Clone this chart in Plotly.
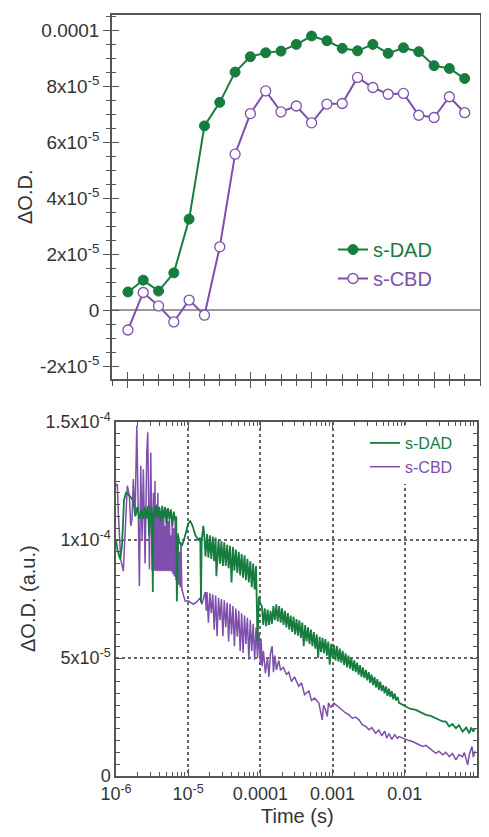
import plotly.graph_objects as go

# ---------------- top panel data (values in units of 1e-5) ----------------
top_index = list(range(23))
dad_top_e5 = [0.65, 1.07, 0.68, 1.33, 3.25, 6.58, 7.42, 8.50, 9.05, 9.19, 9.25, 9.49,
              9.79, 9.62, 9.35, 9.26, 9.49, 9.17, 9.37, 9.23, 8.73, 8.63, 8.27]
cbd_top_e5 = [-0.71, 0.63, 0.15, -0.42, 0.36, -0.18, 2.26, 5.57, 7.02, 7.83, 7.08, 7.29,
              6.69, 7.36, 7.38, 8.31, 7.95, 7.71, 7.74, 6.96, 6.88, 7.62, 7.05]
top_ytick_vals = [-2e-5, 0, 2e-5, 4e-5, 6e-5, 8e-5, 1e-4]
top_ytick_text = ["-2x10<sup>-5</sup>", "0", "2x10<sup>-5</sup>", "4x10<sup>-5</sup>",
                  "6x10<sup>-5</sup>", "8x10<sup>-5</sup>", "0.0001"]

# ---------------- bottom panel data: (log10 time [s], dOD in 1e-5) ----------------
dad_trace = [
    (-6.00, 10.0), (-5.98, 9.6), (-5.944, 9.18), (-5.917, 9.75), (-5.889, 11.7), (-5.861, 12.0),
    (-5.806, 11.85), (-5.76, 11.65), (-5.732, 11.0), (-5.704, 11.4), (-5.676, 10.9), (-5.643, 11.3),
    (-5.62, 10.9), (-5.60, 11.4), (-5.58, 10.9), (-5.56, 11.45), (-5.54, 10.2), (-5.52, 11.4),
    (-5.50, 10.9), (-5.49, 7.8), (-5.48, 11.4), (-5.46, 10.9), (-5.44, 11.5), (-5.42, 10.95),
    (-5.40, 11.4), (-5.38, 10.8), (-5.36, 11.45), (-5.34, 10.9), (-5.32, 11.4), (-5.30, 10.7),
    (-5.28, 11.35), (-5.26, 10.9), (-5.24, 11.3), (-5.22, 10.6), (-5.20, 11.2), (-5.18, 10.8),
    (-5.165, 11.0), (-5.157, 7.4), (-5.14, 10.2), (-5.12, 9.9), (-5.088, 9.75), (-5.05, 10.1),
    (-5.00, 10.7), (-4.972, 10.8), (-4.94, 10.6), (-4.90, 10.2), (-4.86, 10.0), (-4.833, 10.1),
    (-4.823, 7.35), (-4.813, 10.0), (-4.79, 10.6),
    (-4.78, 10.3), (-4.76, 9.3), (-4.74, 10.25), (-4.72, 9.25), (-4.70, 10.2), (-4.68, 9.2),
    (-4.66, 10.15), (-4.64, 9.1), (-4.62, 10.1), (-4.61, 8.47), (-4.60, 9.1), (-4.58, 10.0),
    (-4.56, 9.0), (-4.54, 9.95), (-4.52, 8.9), (-4.50, 9.9), (-4.48, 8.9), (-4.46, 9.8),
    (-4.44, 8.8), (-4.42, 9.75), (-4.40, 8.2), (-4.38, 9.7), (-4.36, 8.7), (-4.34, 9.6),
    (-4.32, 8.6), (-4.30, 9.5), (-4.28, 8.5), (-4.26, 9.4), (-4.24, 8.4), (-4.22, 9.35),
    (-4.20, 8.3), (-4.18, 9.2), (-4.16, 8.2), (-4.14, 9.1), (-4.12, 8.0), (-4.10, 9.0),
    (-4.08, 7.9), (-4.06, 8.9), (-4.04, 5.7), (-4.02, 7.6), (-4.00, 7.3),
    (-3.98, 7.2), (-3.96, 6.4), (-3.94, 7.1), (-3.92, 6.35), (-3.90, 7.05), (-3.88, 6.4),
    (-3.86, 7.0), (-3.84, 6.45), (-3.82, 7.2), (-3.80, 6.6), (-3.78, 7.27), (-3.76, 6.55),
    (-3.74, 7.2), (-3.72, 6.5), (-3.70, 7.1), (-3.68, 6.4), (-3.66, 7.0), (-3.64, 6.3),
    (-3.62, 6.9), (-3.60, 6.2), (-3.58, 6.8), (-3.56, 6.1), (-3.54, 6.75), (-3.52, 6.0),
    (-3.50, 6.65), (-3.48, 5.95), (-3.46, 6.6), (-3.44, 5.85), (-3.42, 6.5), (-3.40, 5.5),
    (-3.38, 6.4), (-3.36, 5.7), (-3.34, 6.3), (-3.32, 5.6), (-3.30, 6.2), (-3.28, 5.5),
    (-3.26, 6.1), (-3.24, 5.4), (-3.22, 6.0), (-3.20, 5.0), (-3.18, 5.9), (-3.16, 5.25),
    (-3.14, 5.85), (-3.12, 5.2), (-3.10, 5.8), (-3.08, 5.1), (-3.06, 5.7), (-3.04, 4.72),
    (-3.02, 5.6), (-3.00, 5.0), (-2.98, 5.55), (-2.96, 4.9), (-2.94, 5.5), (-2.92, 4.85),
    (-2.90, 5.4), (-2.88, 4.8), (-2.86, 5.3), (-2.84, 4.7), (-2.82, 5.2), (-2.80, 4.6),
    (-2.78, 5.1), (-2.76, 4.55), (-2.74, 5.0), (-2.72, 4.45), (-2.70, 4.9), (-2.68, 4.4),
    (-2.66, 4.8), (-2.64, 4.3), (-2.62, 4.7), (-2.60, 4.2), (-2.58, 4.6), (-2.56, 4.15),
    (-2.54, 4.5), (-2.52, 4.05), (-2.50, 4.4), (-2.48, 3.95), (-2.46, 4.3), (-2.44, 3.85),
    (-2.42, 4.2), (-2.40, 3.75), (-2.38, 4.1), (-2.36, 3.65), (-2.34, 4.0), (-2.32, 3.6),
    (-2.30, 3.85), (-2.28, 3.5), (-2.26, 3.8), (-2.24, 3.4), (-2.22, 3.7), (-2.20, 3.35),
    (-2.18, 3.6), (-2.16, 3.25), (-2.14, 3.5), (-2.12, 3.2), (-2.10, 3.35), (-2.08, 3.1),
    (-2.05, 3.05), (-1.986, 2.95), (-1.93, 2.85), (-1.847, 2.8), (-1.78, 2.7), (-1.708, 2.59),
    (-1.64, 2.55), (-1.569, 2.45), (-1.52, 2.4), (-1.476, 2.31), (-1.43, 2.3), (-1.385, 2.1),
    (-1.34, 2.2), (-1.292, 2.03), (-1.25, 2.15), (-1.199, 1.88), (-1.15, 2.05), (-1.107, 1.81),
    (-1.08, 2.05), (-1.051, 1.88), (-1.03, 2.0),
]

cbd_trace = [
    (-6.00, 12.3), (-5.982, 12.37), (-5.968, 11.16), (-5.935, 9.18), (-5.899, 8.68), (-5.861, 10.88),
    (-5.843, 12.3), (-5.815, 11.87), (-5.796, 10.6), (-5.778, 10.88), (-5.76, 12.58), (-5.736, 11.02),
    (-5.712, 14.85), (-5.69, 10.88), (-5.676, 8.05), (-5.657, 13.15), (-5.639, 10.0), (-5.621, 13.0),
    (-5.597, 9.0), (-5.574, 13.71), (-5.56, 14.56), (-5.537, 8.76), (-5.518, 13.71), (-5.50, 8.7),
    (-5.482, 12.0), (-5.47, 8.7), (-5.46, 12.5), (-5.45, 8.7), (-5.44, 11.3), (-5.43, 8.68),
    (-5.42, 12.0), (-5.41, 8.7), (-5.40, 11.2), (-5.39, 8.68), (-5.38, 10.9), (-5.37, 8.7),
    (-5.36, 11.35), (-5.35, 8.68), (-5.34, 11.0), (-5.33, 8.7), (-5.32, 10.6), (-5.31, 8.68),
    (-5.30, 11.3), (-5.29, 8.7), (-5.28, 10.8), (-5.27, 8.68), (-5.26, 11.1), (-5.25, 8.7),
    (-5.24, 10.2), (-5.23, 8.65), (-5.22, 10.9), (-5.21, 8.55), (-5.20, 10.5), (-5.19, 8.45),
    (-5.18, 10.8), (-5.17, 8.3), (-5.16, 9.8), (-5.15, 8.2), (-5.14, 10.3), (-5.13, 8.1),
    (-5.12, 9.5), (-5.11, 8.0), (-5.10, 9.9), (-5.088, 7.9), (-5.042, 7.41), (-4.996, 7.41),
    (-4.926, 7.27), (-4.871, 7.41), (-4.833, 7.55), (-4.81, 7.27), (-4.764, 7.8),
    (-4.75, 7.0), (-4.74, 7.8), (-4.72, 6.5), (-4.70, 7.75), (-4.68, 6.9), (-4.66, 7.7),
    (-4.64, 6.2), (-4.62, 7.65), (-4.60, 5.92), (-4.58, 7.55), (-4.56, 6.6), (-4.54, 7.5),
    (-4.52, 5.92), (-4.50, 7.45), (-4.48, 6.3), (-4.46, 7.35), (-4.44, 5.7), (-4.42, 7.3),
    (-4.40, 6.0), (-4.38, 7.2), (-4.36, 5.5), (-4.34, 7.1), (-4.32, 5.9), (-4.30, 7.0),
    (-4.28, 5.3), (-4.26, 6.9), (-4.24, 5.21), (-4.22, 6.8), (-4.20, 5.6), (-4.18, 6.7),
    (-4.16, 4.93), (-4.14, 6.6), (-4.12, 5.3), (-4.10, 6.45), (-4.08, 4.93), (-4.06, 6.3),
    (-4.04, 5.0), (-4.02, 6.1), (-4.00, 4.7), (-3.99, 5.8),
    (-3.976, 4.65), (-3.958, 5.3), (-3.931, 4.36), (-3.903, 5.0), (-3.882, 4.2), (-3.861, 5.2),
    (-3.837, 5.5), (-3.819, 4.4), (-3.799, 5.1), (-3.778, 4.5), (-3.746, 4.9), (-3.722, 4.5),
    (-3.681, 4.6), (-3.639, 4.3), (-3.607, 4.4), (-3.569, 4.0), (-3.528, 4.2), (-3.468, 3.8),
    (-3.431, 3.95), (-3.389, 3.45), (-3.329, 3.6), (-3.292, 3.2), (-3.25, 3.3), (-3.19, 3.09),
    (-3.143, 2.38), (-3.125, 3.0), (-3.097, 2.8), (-3.074, 2.52), (-3.056, 3.1), (-3.028, 2.9),
    (-2.982, 3.09), (-2.935, 2.95), (-2.889, 2.85), (-2.819, 2.67), (-2.778, 2.6), (-2.726, 2.45),
    (-2.681, 2.5), (-2.635, 2.38), (-2.588, 2.17), (-2.542, 2.1), (-2.496, 1.96), (-2.458, 2.05),
    (-2.403, 1.81), (-2.361, 1.95), (-2.319, 1.7), (-2.278, 1.9), (-2.25, 1.6), (-2.218, 1.8),
    (-2.181, 1.55), (-2.139, 1.75), (-2.101, 1.6), (-2.079, 1.67), (-2.042, 1.62), (-1.986, 1.55),
    (-1.944, 1.5), (-1.893, 1.46), (-1.847, 1.39), (-1.806, 1.35), (-1.754, 1.25), (-1.708, 1.3),
    (-1.662, 1.18), (-1.625, 1.1), (-1.569, 0.96), (-1.528, 1.05), (-1.476, 0.9), (-1.431, 1.0),
    (-1.385, 0.82), (-1.34, 0.95), (-1.292, 0.68), (-1.25, 0.9), (-1.199, 0.82), (-1.176, 1.0),
    (-1.129, 0.47), (-1.107, 0.9), (-1.069, 1.25), (-1.051, 0.8), (-1.028, 1.05),
]

bottom_xtick_vals = [1e-6, 1e-5, 1e-4, 1e-3, 1e-2, 1e-1]
bottom_xtick_text = ["10<sup>-6</sup>", "10<sup>-5</sup>", "0.0001", "0.001", "0.01", "0.1"]
bottom_ytick_vals = [0, 5e-5, 1e-4, 1.5e-4]
bottom_ytick_text = ["0", "5x10<sup>-5</sup>", "1x10<sup>-4</sup>", "1.5x10<sup>-4</sup>"]

GREEN = "#167d3f"
PURPLE = "#7e4fac"
AXC = "#555555"
FONT = "Liberation Sans, Arial, sans-serif"

E5 = 1e-5
dad_t = [10 ** p[0] for p in dad_trace]
dad_v = [p[1] * E5 for p in dad_trace]
cbd_t = [10 ** p[0] for p in cbd_trace]
cbd_v = [p[1] * E5 for p in cbd_trace]

fig = go.Figure()

# top panel
fig.add_trace(go.Scatter(
    x=top_index, y=[v * E5 for v in dad_top_e5], mode="lines+markers",
    name="<span style='color:%s'>s-DAD</span>" % GREEN, legendgroup="a",
    line=dict(color=GREEN, width=2),
    marker=dict(symbol="circle", size=10, color=GREEN, line=dict(color=GREEN, width=1)),
    xaxis="x", yaxis="y", legend="legend"))
fig.add_trace(go.Scatter(
    x=top_index, y=[v * E5 for v in cbd_top_e5], mode="lines+markers",
    name="<span style='color:%s'>s-CBD</span>" % PURPLE, legendgroup="b",
    line=dict(color=PURPLE, width=2),
    marker=dict(symbol="circle", size=10, color="white", line=dict(color=PURPLE, width=1.3)),
    xaxis="x", yaxis="y", legend="legend"))

# bottom panel
fig.add_trace(go.Scatter(
    x=cbd_t, y=cbd_v, mode="lines", name="<span style='color:%s'>s-CBD</span>" % PURPLE,
    line=dict(color=PURPLE, width=1.5), xaxis="x2", yaxis="y2", legend="legend2",
    legendrank=2))
fig.add_trace(go.Scatter(
    x=dad_t, y=dad_v, mode="lines", name="<span style='color:%s'>s-DAD</span>" % GREEN,
    line=dict(color=GREEN, width=1.8), xaxis="x2", yaxis="y2", legend="legend2",
    legendrank=1))

# empty traces so the tick-overlay axes (crossing ticks) exist
fig.add_trace(go.Scatter(x=[], y=[], xaxis="x3", yaxis="y", showlegend=False, hoverinfo="skip"))
fig.add_trace(go.Scatter(x=[], y=[], xaxis="x", yaxis="y3", showlegend=False, hoverinfo="skip"))

# the page body adds an 8px margin, so the figure is 8px smaller and shifted
OFF = 8
W, H = 489 - OFF, 837 - OFF


def px_x(px):
    return (px - OFF) / W


def px_y(py):
    return 1 - (py - OFF) / H


top_xdom = [px_x(112), px_x(480)]
top_ydom = [px_y(379), px_y(15)]
bot_xdom = [px_x(116), px_x(477)]
bot_ydom = [px_y(776), px_y(422)]

top_xrange = [-1.04, 23.0]
top_yrange = [-2.46e-5, 1.054e-4]

tickfont = dict(family=FONT, size=19, color="#333333")

fig.update_layout(
    width=W, height=H, margin=dict(l=0, r=0, t=0, b=0, autoexpand=False),
    paper_bgcolor="white", plot_bgcolor="white",
    font=dict(family=FONT, color="#333333"),
    xaxis=dict(domain=top_xdom, anchor="y", range=top_xrange, showgrid=False, zeroline=False,
               automargin=False,
               showticklabels=False, ticks="outside", ticklen=7, tickwidth=1.2, tickcolor=AXC,
               tickmode="linear", tick0=0, dtick=4,
               minor=dict(ticks="outside", ticklen=5, tickwidth=1.2, tickcolor=AXC, dtick=1, tick0=0),
               showline=True, linecolor=AXC, linewidth=1.5, mirror=True),
    xaxis3=dict(overlaying="x", anchor="y", range=top_xrange, showgrid=False, zeroline=False,
                automargin=False,
                showticklabels=False, ticks="inside", ticklen=7, tickwidth=1.2, tickcolor=AXC,
                tickmode="linear", tick0=0, dtick=4,
                minor=dict(ticks="inside", ticklen=5, tickwidth=1.2, tickcolor=AXC, dtick=1, tick0=0),
                showline=False),
    yaxis=dict(domain=top_ydom, anchor="x", range=top_yrange, showgrid=False,
               automargin=False,
               zeroline=True, zerolinecolor="#999999", zerolinewidth=1.5,
               tickmode="array", tickvals=top_ytick_vals, ticktext=top_ytick_text,
               ticks="outside", ticklen=7, tickwidth=1.2, tickcolor=AXC, tickfont=tickfont,
               minor=dict(ticks="outside", ticklen=4, tickwidth=1.2, tickcolor=AXC,
                          tickmode="linear", tick0=0, dtick=5e-6),
               showline=True, linecolor=AXC, linewidth=1.5, mirror=True),
    yaxis3=dict(overlaying="y", anchor="x", range=top_yrange, showgrid=False, zeroline=False,
                automargin=False,
                showticklabels=False, tickmode="array", tickvals=top_ytick_vals,
                ticks="inside", ticklen=7, tickwidth=1.2, tickcolor=AXC,
                minor=dict(ticks="inside", ticklen=4, tickwidth=1.2, tickcolor=AXC,
                           tickmode="linear", tick0=0, dtick=5e-6),
                showline=False),
    xaxis2=dict(domain=bot_xdom, anchor="y2", type="log", range=[-6, -1],
                automargin=False, ticklabelstandoff=1,
                tickmode="array", tickvals=bottom_xtick_vals, ticktext=bottom_xtick_text,
                tickfont=dict(family=FONT, size=18, color="#333333"),
                ticks="inside", ticklen=7, tickwidth=1.2, tickcolor=AXC,
                minor=dict(ticks="inside", ticklen=4, tickwidth=1, tickcolor=AXC, dtick="D1",
                           showgrid=False),
                showgrid=True, gridcolor="#666666", gridwidth=1.5, griddash="dot",
                zeroline=False, showline=True, linecolor=AXC, linewidth=1.5, mirror="allticks"),
    yaxis2=dict(domain=bot_ydom, anchor="x2", range=[0, 1.5e-4],
                automargin=False,
                tickmode="array", tickvals=bottom_ytick_vals, ticktext=bottom_ytick_text,
                tickfont=dict(family=FONT, size=18, color="#333333"),
                ticks="inside", ticklen=6, tickwidth=1.2, tickcolor=AXC,
                minor=dict(ticks="inside", ticklen=4, tickwidth=1, tickcolor=AXC,
                           tickmode="linear", tick0=0, dtick=5e-6, showgrid=False),
                showgrid=True, gridcolor="#666666", gridwidth=1.5, griddash="dot",
                zeroline=False, showline=True, linecolor=AXC, linewidth=1.5, mirror="allticks"),
    legend=dict(x=px_x(333), y=px_y(230), xanchor="left", yanchor="top",
                font=dict(family=FONT, size=20), bgcolor="rgba(255,255,255,0)",
                tracegroupgap=0, itemwidth=30),
    legend2=dict(x=px_x(365), y=px_y(426), xanchor="left", yanchor="top",
                 font=dict(family=FONT, size=16), bgcolor="white", tracegroupgap=0,
                 itemwidth=30),
    showlegend=True,
    annotations=[
        dict(text="ΔO.D.", x=px_x(25), y=px_y(197), xref="paper", yref="paper",
             xanchor="center", yanchor="middle",
             showarrow=False, textangle=-90, font=dict(family=FONT, size=20, color="#333333")),
        dict(text="ΔO.D. (a.u.)", x=px_x(28), y=px_y(599), xref="paper", yref="paper",
             xanchor="center", yanchor="middle",
             showarrow=False, textangle=-90, font=dict(family=FONT, size=20, color="#333333")),
        dict(text="Time (s)", x=px_x(297), y=px_y(816), xref="paper", yref="paper",
             xanchor="center", yanchor="middle",
             showarrow=False, font=dict(family=FONT, size=20, color="#333333")),
    ],
)

fig.write_html("out.html")
